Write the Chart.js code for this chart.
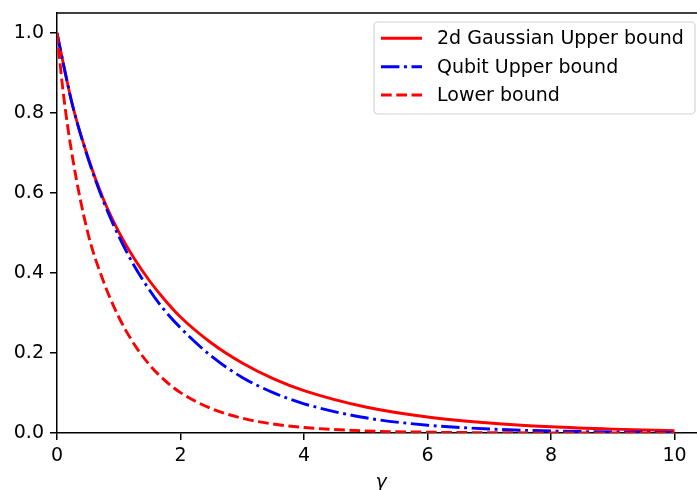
<!DOCTYPE html>
<html>
<head>
<meta charset="utf-8">
<script src="https://cdn.jsdelivr.net/npm/chart.js@4.4.1/dist/chart.umd.min.js"></script>
<style>
  html, body { margin: 0; padding: 0; background: #fff; overflow: hidden; }
  #wrap { position: relative; width: 720px; height: 490px; }
</style>
</head>
<body>
<div id="wrap"><canvas id="grafico" width="720" height="490"></canvas></div>
<script>
// valores
const gamma = [0, 0.1, 0.25, 0.5, 0.75, 1, 1.25, 1.5, 1.75, 2, 2.5, 3, 3.5, 4, 5, 6, 7, 8, 9, 10];
const gaussianUpper = [1.0, 0.925, 0.82, 0.69, 0.585, 0.503, 0.436, 0.38, 0.332, 0.29, 0.225, 0.175, 0.136, 0.106, 0.065, 0.040, 0.025, 0.0155, 0.0097, 0.006];
const qubitUpper = [1.0, 0.925, 0.82, 0.688, 0.58, 0.492, 0.418, 0.357, 0.305, 0.263, 0.192, 0.139, 0.101, 0.073, 0.038, 0.0195, 0.010, 0.005, 0.0026, 0.0013];
const lowerBound = [1.0, 0.852, 0.69, 0.50, 0.38, 0.29, 0.222, 0.170, 0.131, 0.101, 0.061, 0.037, 0.0225, 0.0138, 0.0053, 0.0021, 0.0008, 0.0003, 0.0001, 0.00005];
const xTicks = [0, 2, 4, 6, 8, 10];
const yTicks = [0, 0.2, 0.4, 0.6, 0.8, 1.0];
const etiquetas = ['2d Gaussian Upper bound', 'Qubit Upper bound', 'Lower bound'];

const FUENTE = "'DejaVu Sans'";
const LW = 2.9;
const DASHED = [10.7, 4.6];
const DASHDOT = [18.4, 4.6, 2.9, 4.6];

Chart.defaults.font.family = FUENTE;
Chart.defaults.font.size = 19;
Chart.defaults.color = '#000';

function puntos(valores) {
    return gamma.map((g, i) => ({ x: g, y: valores[i] }));
}

const marcoYLeyenda = {
    id: 'marcoYLeyenda',
    afterDraw(chart) {
        const { ctx, chartArea } = chart;
        ctx.save();
        // eje superior y derecho
        ctx.strokeStyle = '#000';
        ctx.lineWidth = 1.5;
        ctx.beginPath();
        ctx.moveTo(chartArea.left, chartArea.top);
        ctx.lineTo(chartArea.right, chartArea.top);
        ctx.lineTo(chartArea.right, chartArea.bottom);
        ctx.stroke();

        // titulo del eje x
        ctx.fillStyle = '#000';
        ctx.font = `italic 19px ${FUENTE}`;
        ctx.textAlign = 'center';
        ctx.textBaseline = 'alphabetic';
        ctx.fillText('γ', (chartArea.left + chartArea.right) / 2, 488);

        // leyenda
        const bx = 374, by = 22, bw = 321, bh = 92, r = 4;
        ctx.beginPath();
        ctx.moveTo(bx + r, by);
        ctx.arcTo(bx + bw, by, bx + bw, by + bh, r);
        ctx.arcTo(bx + bw, by + bh, bx, by + bh, r);
        ctx.arcTo(bx, by + bh, bx, by, r);
        ctx.arcTo(bx, by, bx + bw, by, r);
        ctx.closePath();
        ctx.fillStyle = 'rgba(255,255,255,0.8)';
        ctx.fill();
        ctx.strokeStyle = '#d4d4d4';
        ctx.lineWidth = 1.2;
        ctx.stroke();

        const filas = [38.3, 66.7, 95];
        chart.data.datasets.forEach((ds, i) => {
            const y = filas[i];
            ctx.beginPath();
            ctx.setLineDash(ds.borderDash || []);
            ctx.lineCap = 'butt';
            ctx.strokeStyle = ds.borderColor;
            ctx.lineWidth = LW;
            ctx.moveTo(381, y);
            ctx.lineTo(422, y);
            ctx.stroke();
            ctx.setLineDash([]);
            ctx.fillStyle = '#000';
            ctx.font = `19px ${FUENTE}`;
            ctx.textAlign = 'left';
            ctx.textBaseline = 'middle';
            ctx.fillText(ds.label, 437, y + 1);
        });
        ctx.restore();
    }
};

const ctx = document.getElementById('grafico').getContext('2d');
new Chart(ctx, {
    type: 'line',
    data: {
        datasets: [
            { label: etiquetas[0], data: puntos(gaussianUpper), borderColor: '#ff0000', borderWidth: LW, borderDash: [], order: 3 },
            { label: etiquetas[1], data: puntos(qubitUpper), borderColor: '#0000ff', borderWidth: LW, borderDash: DASHDOT, order: 2 },
            { label: etiquetas[2], data: puntos(lowerBound), borderColor: '#ff0000', borderWidth: LW, borderDash: DASHED, order: 1 }
        ]
    },
    options: {
        responsive: false,
        animation: false,
        devicePixelRatio: 1,
        layout: { padding: { top: 13, right: 14.6, left: 0, bottom: 0 } },
        elements: {
            point: { radius: 0 },
            line: { cubicInterpolationMode: 'monotone', borderCapStyle: 'butt', fill: false }
        },
        plugins: { legend: { display: false }, tooltip: { enabled: false } },
        scales: {
            x: {
                type: 'linear',
                min: 0,
                max: 10.5,
                afterFit: (scale) => { scale.height = 57; },
                afterBuildTicks: (scale) => { scale.ticks = xTicks.map((v) => ({ value: v })); },
                ticks: { padding: 5, maxRotation: 0, callback: (v) => String(v) },
                grid: { drawOnChartArea: false, drawTicks: true, tickLength: 7, color: '#000', lineWidth: 1.5 },
                border: { display: true, color: '#000', width: 1.5 }
            },
            y: {
                type: 'linear',
                min: 0,
                max: 1.05,
                afterFit: (scale) => { scale.width = 57; },
                afterBuildTicks: (scale) => { scale.ticks = yTicks.map((v) => ({ value: v })); },
                ticks: { padding: 6, font: { lineHeight: 0.6 }, callback: (v) => Number(v).toFixed(1) },
                grid: { drawOnChartArea: false, drawTicks: true, tickLength: 7, color: '#000', lineWidth: 1.5 },
                border: { display: true, color: '#000', width: 1.5 }
            }
        }
    },
    plugins: [marcoYLeyenda]
});
</script>
</body>
</html>
